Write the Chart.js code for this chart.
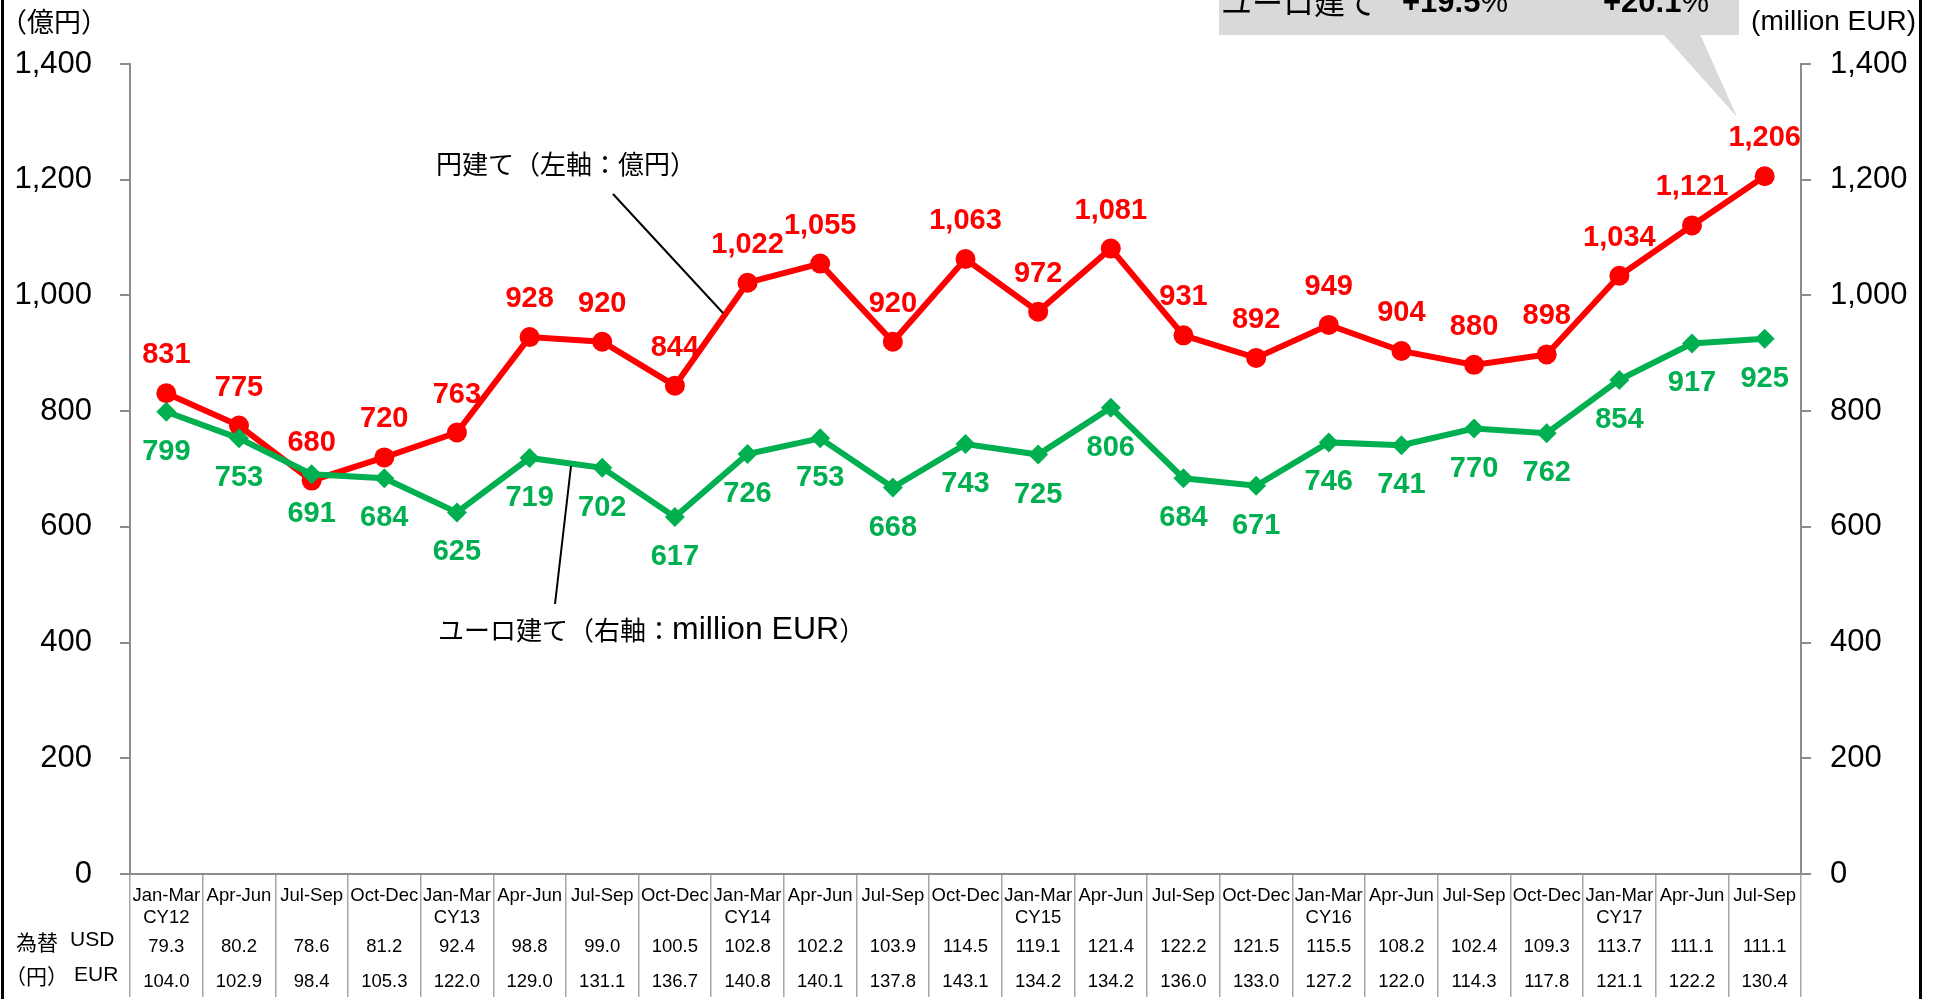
<!DOCTYPE html>
<html>
<head>
<meta charset="utf-8">
<script src="https://cdn.jsdelivr.net/npm/chart.js@4.4.0/dist/chart.umd.min.js"></script>
<style>
  body { margin: 0; background: #fff; }
  #wrap { width: 1934px; height: 999px; }
</style>
</head>
<body>
<div id="wrap"><canvas id="salesChart" width="1934" height="999"></canvas></div>
<script>
// quarters and calendar years (year shown only under Jan-Mar)
const quarters = ['Jan-Mar', 'Apr-Jun', 'Jul-Sep', 'Oct-Dec', 'Jan-Mar', 'Apr-Jun', 'Jul-Sep', 'Oct-Dec',
    'Jan-Mar', 'Apr-Jun', 'Jul-Sep', 'Oct-Dec', 'Jan-Mar', 'Apr-Jun', 'Jul-Sep', 'Oct-Dec',
    'Jan-Mar', 'Apr-Jun', 'Jul-Sep', 'Oct-Dec', 'Jan-Mar', 'Apr-Jun', 'Jul-Sep'];
const years = ['CY12', '', '', '', 'CY13', '', '', '', 'CY14', '', '', '', 'CY15', '', '', '',
    'CY16', '', '', '', 'CY17', '', ''];

// yen basis (left axis, 億円) and euro basis (right axis, million EUR)
const yenValues = [831, 775, 680, 720, 763, 928, 920, 844, 1022, 1055, 920, 1063, 972, 1081, 931, 892,
    949, 904, 880, 898, 1034, 1121, 1206];
const euroValues = [799, 753, 691, 684, 625, 719, 702, 617, 726, 753, 668, 743, 725, 806, 684, 671,
    746, 741, 770, 762, 854, 917, 925];

// exchange rates (円)
const usdRates = ['79.3', '80.2', '78.6', '81.2', '92.4', '98.8', '99.0', '100.5', '102.8', '102.2', '103.9',
    '114.5', '119.1', '121.4', '122.2', '121.5', '115.5', '108.2', '102.4', '109.3', '113.7', '111.1', '111.1'];
const eurRates = ['104.0', '102.9', '98.4', '105.3', '122.0', '129.0', '131.1', '136.7', '140.8', '140.1', '137.8',
    '143.1', '134.2', '134.2', '136.0', '133.0', '127.2', '122.0', '114.3', '117.8', '121.1', '122.2', '130.4'];

const yTicks = [0, 200, 400, 600, 800, 1000, 1200, 1400];

const JP = '"Noto Sans CJK JP", sans-serif';
const LAT = '"Liberation Sans", Arial, sans-serif';
const RED = '#ff0000';
const GREEN = '#00b050';
const AXIS = '#8c8c8c';

function fmt(v) {
    return v.toLocaleString('en-US');
}

// draw a run of [text, font] pieces left to right
function drawPieces(ctx, pieces, x, y) {
    pieces.forEach(p => {
        ctx.font = p[1];
        ctx.fillText(p[0], x, y);
        x += ctx.measureText(p[0]).width;
    });
}

// value labels next to every point
const pointLabels = {
    id: 'pointLabels',
    afterDatasetsDraw(chart) {
        const ctx = chart.ctx;
        ctx.save();
        ctx.font = 'bold 29px ' + LAT;
        ctx.textAlign = 'center';
        ctx.textBaseline = 'middle';
        chart.data.datasets.forEach((ds, i) => {
            const meta = chart.getDatasetMeta(i);
            ctx.fillStyle = ds.borderColor;
            meta.data.forEach((pt, j) => {
                ctx.fillText(fmt(ds.data[j]), pt.x, pt.y + ds.labelShift);
            });
        });
        ctx.restore();
    }
};

// table under the x axis, callouts, axis titles and frame
const extras = {
    id: 'extras',
    afterDraw(chart) {
        const ctx = chart.ctx;
        const x = chart.scales.x;
        ctx.save();
        ctx.fillStyle = '#000';
        ctx.textAlign = 'center';
        ctx.textBaseline = 'middle';
        ctx.font = '18.5px ' + LAT;
        quarters.forEach((q, i) => {
            const px = x.getPixelForValue(i);
            ctx.fillText(q, px, 896);
            if (years[i]) ctx.fillText(years[i], px, 918);
            ctx.fillText(usdRates[i], px, 947);
            ctx.fillText(eurRates[i], px, 982);
        });

        ctx.textAlign = 'left';
        ctx.font = '21px ' + JP;
        ctx.fillText('為替', 16, 942);
        ctx.fillText('（円）', 5, 976);
        ctx.font = '21px ' + LAT;
        ctx.fillText('USD', 70, 940);
        ctx.fillText('EUR', 74, 975);

        // axis titles
        ctx.font = '27px ' + JP;
        ctx.fillText('（億円）', 0, 22);
        ctx.textAlign = 'right';
        ctx.font = '28px ' + LAT;
        ctx.fillText('(million EUR)', 1916, 22);

        // series captions with leader lines
        ctx.strokeStyle = '#000';
        ctx.lineWidth = 2;
        ctx.beginPath();
        ctx.moveTo(613, 194);
        ctx.lineTo(723, 313);
        ctx.moveTo(571, 466);
        ctx.lineTo(555, 604);
        ctx.stroke();
        ctx.textAlign = 'left';
        ctx.font = '26px ' + JP;
        ctx.fillText('円建て（左軸：億円）', 436, 164);
        drawPieces(ctx, [
            ['ユーロ建て（右軸：', '26px ' + JP],
            ['million EUR', '32px ' + LAT],
            ['）', '26px ' + JP]
        ], 438, 630);

        // grey callout at the top (cut off by the frame)
        ctx.fillStyle = '#d9d9d9';
        ctx.fillRect(1219, 0, 520, 35);
        ctx.beginPath();
        ctx.moveTo(1663, 34);
        ctx.lineTo(1700, 34);
        ctx.lineTo(1737, 117);
        ctx.closePath();
        ctx.fill();
        ctx.fillStyle = '#000';
        ctx.textBaseline = 'alphabetic';
        ctx.font = '31px ' + JP;
        ctx.fillText('ユーロ建て', 1221, 14);
        drawPieces(ctx, [['+19.5', 'bold 31px ' + LAT], ['%', '31px ' + LAT]], 1402, 12);
        drawPieces(ctx, [['+20.1', 'bold 31px ' + LAT], ['%', '31px ' + LAT]], 1603, 12);

        // frame
        ctx.strokeStyle = '#000';
        ctx.lineWidth = 3;
        ctx.beginPath();
        ctx.moveTo(2.5, 0);
        ctx.lineTo(2.5, 999);
        ctx.moveTo(1920.5, 0);
        ctx.lineTo(1920.5, 999);
        ctx.stroke();
        ctx.restore();
    }
};

const yAxis = (pos, width, pad) => ({
    position: pos,
    min: 0,
    max: 1400,
    afterBuildTicks: axis => { axis.ticks = yTicks.map(v => ({ value: v })); },
    afterFit: axis => { axis.width = width; },
    border: { color: AXIS, width: 2 },
    grid: { drawOnChartArea: false, tickLength: 10, color: AXIS, lineWidth: 2 },
    ticks: {
        padding: pad,
        color: '#000',
        font: { family: LAT, size: 31 },
        callback: v => fmt(v)
    }
});

new Chart(document.getElementById('salesChart'), {
    type: 'line',
    data: {
        labels: quarters.map((q, i) => years[i] ? [q, years[i]] : q),
        datasets: [{
            label: '円建て',
            data: yenValues,
            yAxisID: 'y',
            borderColor: RED,
            backgroundColor: RED,
            borderWidth: 6,
            pointStyle: 'circle',
            pointRadius: 10,
            pointBorderWidth: 0,
            tension: 0,
            order: 2,
            labelShift: -38
        }, {
            label: 'ユーロ建て',
            data: euroValues,
            yAxisID: 'y1',
            borderColor: GREEN,
            backgroundColor: GREEN,
            borderWidth: 6,
            pointStyle: 'rectRot',
            pointRadius: 10,
            pointBorderWidth: 0,
            tension: 0,
            order: 1,
            labelShift: 40
        }]
    },
    options: {
        responsive: false,
        animation: false,
        layout: { padding: { top: 64, left: 0, right: 0, bottom: 0 } },
        plugins: {
            legend: { display: false },
            tooltip: { enabled: false }
        },
        scales: {
            x: {
                offset: true,
                afterFit: axis => { axis.height = 125; },
                border: { color: AXIS, width: 2 },
                grid: { offset: true, drawOnChartArea: false, tickLength: 123, color: '#a6a6a6', lineWidth: 1.5 },
                ticks: { display: false }
            },
            y: yAxis('left', 130, 28),
            y1: yAxis('right', 133, 19)
        }
    },
    plugins: [pointLabels, extras]
});
</script>
</body>
</html>
